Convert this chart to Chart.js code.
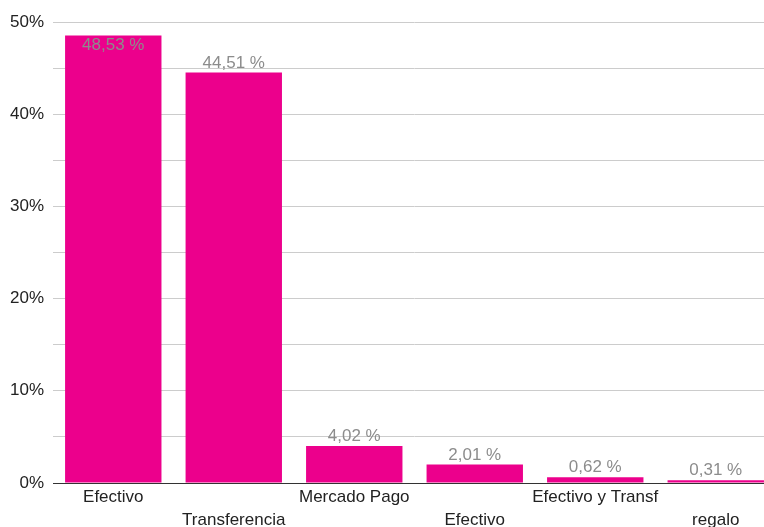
<!DOCTYPE html>
<html lang="es">
<head>
<meta charset="UTF-8">
<title>Medios de pago</title>
<script src="https://cdn.jsdelivr.net/npm/chart.js"></script>
<style>
  html, body { margin: 0; padding: 0; background: #fff; overflow: hidden; }
  #wrap { width: 776px; height: 527px; }
</style>
</head>
<body>
<div id="wrap"><canvas id="chart"></canvas></div>
<script>
// data
const categories = ['Efectivo', 'Transferencia', 'Mercado Pago', 'Efectivo', 'Efectivo y Transf', 'regalo'];
const shares = [48.53, 44.51, 4.02, 2.01, 0.62, 0.31];
const yTicks = [0, 10, 20, 30, 40, 50];

const pink = '#ec008c';
const font = '"Liberation Sans", Arial, sans-serif';

// alternate labels on two rows like the original
const xLabels = categories.map((c, i) => i % 2 === 0 ? [c, ''] : ['', c]);

const valueLabels = {
  id: 'valueLabels',
  afterDatasetsDraw(chart) {
    const ctx = chart.ctx;
    const meta = chart.getDatasetMeta(0);
    ctx.save();
    ctx.font = '17px ' + font;
    ctx.fillStyle = '#8c8c8c';
    ctx.textAlign = 'center';
    meta.data.forEach((bar, i) => {
      const txt = shares[i].toFixed(2).replace('.', ',') + ' %';
      if (bar.y - 20 < chart.chartArea.top) {
        ctx.textBaseline = 'top';
        ctx.fillText(txt, bar.x, bar.y + 1);
      } else {
        ctx.textBaseline = 'bottom';
        ctx.fillText(txt, bar.x, bar.y - 1);
      }
    });
    ctx.restore();
  }
};

new Chart(document.getElementById('chart'), {
  type: 'bar',
  data: {
    labels: xLabels,
    datasets: [{
      data: shares,
      backgroundColor: pink,
      borderWidth: 0,
      categoryPercentage: 1,
      barPercentage: 0.8
    }]
  },
  options: {
    responsive: true,
    maintainAspectRatio: false,
    animation: false,
    layout: { padding: { top: 22, left: 1, right: 0, bottom: -8 } },
    plugins: { legend: { display: false }, tooltip: { enabled: false } },
    scales: {
      x: {
        grid: { display: false, drawTicks: false },
        border: { color: '#333', width: 1 },
        ticks: {
          color: '#222',
          font: { family: font, size: 17, lineHeight: 23 / 17 },
          maxRotation: 0,
          autoSkip: false,
          padding: 3
        }
      },
      y: {
        min: 0,
        max: 50,
        border: { display: false },
        grid: {
          color: ctx => ctx.tick && ctx.tick.value === 0 ? '#333' : '#cccccc',
          drawTicks: false
        },
        ticks: {
          stepSize: 5,
          color: '#222',
          padding: 9,
          font: { family: font, size: 17 },
          callback: v => yTicks.includes(v) ? v + '%' : ''
        }
      }
    }
  },
  plugins: [valueLabels]
});
</script>
</body>
</html>
